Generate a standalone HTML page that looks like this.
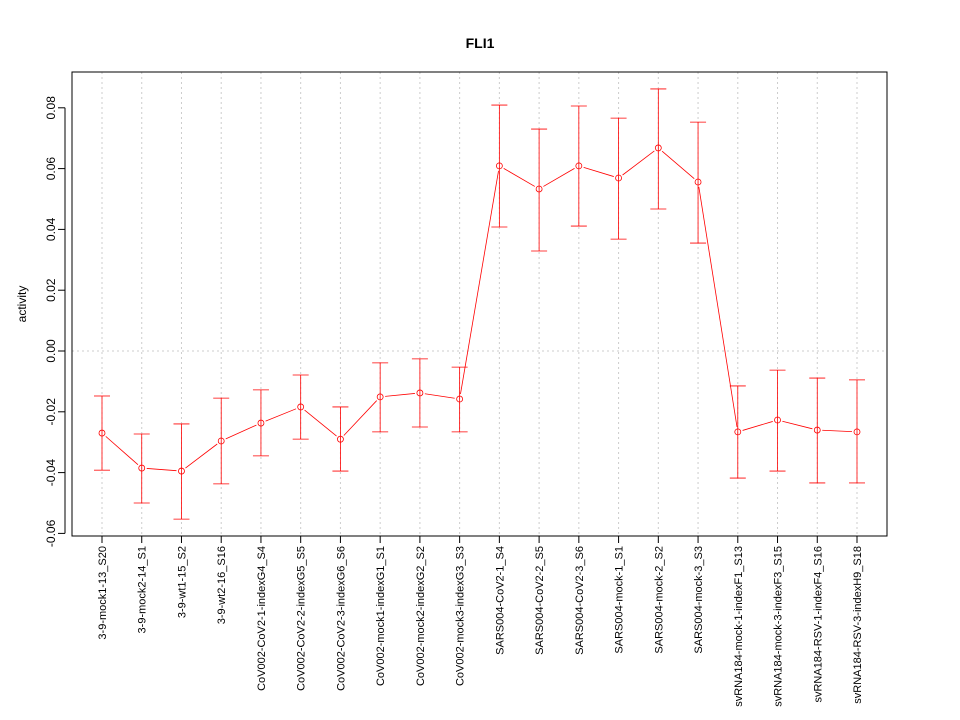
<!DOCTYPE html>
<html><head><meta charset="utf-8"><style>body{margin:0;background:#fff}svg{display:block;font-family:"Liberation Sans",sans-serif}</style></head>
<body>
<svg id="chart" width="960" height="720" xmlns="http://www.w3.org/2000/svg">
<rect width="960" height="720" fill="#fff"/>
<text x="480" y="48" text-anchor="middle" font-weight="bold" font-size="14">FLI1</text>
<text transform="translate(26,304) rotate(-90)" text-anchor="middle" font-size="12">activity</text>
<g id="grid"></g><g id="axes"></g><g id="marks"></g>
<rect x="72" y="72" width="815" height="464" fill="none" stroke="#000"/>
</svg>
<script>
const categories=["3-9-mock1-13_S20","3-9-mock2-14_S1","3-9-wt1-15_S2","3-9-wt2-16_S16","CoV002-CoV2-1-indexG4_S4","CoV002-CoV2-2-indexG5_S5","CoV002-CoV2-3-indexG6_S6","CoV002-mock1-indexG1_S1","CoV002-mock2-indexG2_S2","CoV002-mock3-indexG3_S3","SARS004-CoV2-1_S4","SARS004-CoV2-2_S5","SARS004-CoV2-3_S6","SARS004-mock-1_S1","SARS004-mock-2_S2","SARS004-mock-3_S3","svRNA184-mock-1-indexF1_S13","svRNA184-mock-3-indexF3_S15","svRNA184-RSV-1-indexF4_S16","svRNA184-RSV-3-indexH9_S18"];
const means=[-0.027,-0.0385,-0.0395,-0.0296,-0.0237,-0.0184,-0.029,-0.0151,-0.0138,-0.0158,0.0609,0.0533,0.0609,0.0569,0.0668,0.0556,-0.0266,-0.0227,-0.026,-0.0266];
const upper=[-0.0148,-0.0273,-0.024,-0.0155,-0.0128,-0.0079,-0.0184,-0.0039,-0.0026,-0.0053,0.0809,0.073,0.0806,0.0766,0.0862,0.0753,-0.0115,-0.0063,-0.0089,-0.0095];
const lower=[-0.0392,-0.050,-0.0553,-0.0437,-0.0345,-0.029,-0.0395,-0.0266,-0.025,-0.0266,0.0408,0.0329,0.0411,0.0368,0.0467,0.0355,-0.0418,-0.0395,-0.0434,-0.0434];
const yTicks=[-0.06,-0.04,-0.02,0.00,0.02,0.04,0.06,0.08];
const yTickLabels=["-0.06","-0.04","-0.02","0.00","0.02","0.04","0.06","0.08"];
const NS="http://www.w3.org/2000/svg";
function X(i){return 102+i*(857-102)/(categories.length-1);}
function Y(v){return 351-v*3040;}
function mk(t,a,p){const e=document.createElementNS(NS,t);for(const k in a)e.setAttribute(k,a[k]);p.appendChild(e);return e;}
const grid=document.getElementById('grid'),axes=document.getElementById('axes'),marks=document.getElementById('marks');
categories.forEach((c,i)=>{
 const g=mk('line',{x1:X(i),x2:X(i),y1:72,y2:536,stroke:'#ccc','stroke-dasharray':'2,3'},grid);
 
 const t=mk('line',{x1:X(i),x2:X(i),y1:536,y2:543,stroke:'#000'},axes);
 
 const l=mk('text',{transform:`translate(${X(i)+4},546) rotate(-90)`,'text-anchor':'end','font-size':'11'},axes);
 l.textContent=c;
});
const z=mk('line',{x1:72,x2:887,y1:Y(0),y2:Y(0),stroke:'#ccc','stroke-dasharray':'2,3'},grid);

const ya=mk('line',{x1:65,x2:65,y1:Y(yTicks[0]),y2:Y(yTicks[yTicks.length-1]),stroke:'#000'},axes);

yTicks.forEach((v,i)=>{
 const t=mk('line',{x1:58,x2:65,y1:Y(v),y2:Y(v),stroke:'#000'},axes);
 
 const l=mk('text',{transform:`translate(55,${Y(v)}) rotate(-90)`,'text-anchor':'middle','font-size':'12'},axes);
 l.textContent=yTickLabels[i];
});
const xa=mk('line',{x1:X(0),x2:X(categories.length-1),y1:536,y2:536,stroke:'#000'},axes);

means.forEach((m,i)=>{
 const e=mk('line',{x1:X(i),x2:X(i),y1:Y(upper[i]),y2:Y(lower[i]),stroke:'#f00','stroke-width':0.8},marks);
 
 [upper[i],lower[i]].forEach(v=>{const c=mk('line',{x1:X(i)-8,x2:X(i)+8,y1:Y(v),y2:Y(v),stroke:'#f00','stroke-width':0.8},marks);
 });
});
for(let i=0;i<means.length-1;i++){
 const x1=X(i),y1=Y(means[i]),x2=X(i+1),y2=Y(means[i+1]);
 const d=Math.hypot(x2-x1,y2-y1),g=5/d;
 const s=mk('line',{x1:x1+(x2-x1)*g,y1:y1+(y2-y1)*g,x2:x2-(x2-x1)*g,y2:y2-(y2-y1)*g,stroke:'#f00','stroke-width':0.8},marks);
 
}
means.forEach((m,i)=>{
 const p=mk('circle',{cx:X(i),cy:Y(m),r:3,fill:'none',stroke:'#f00','stroke-width':0.8},marks);
 
});
</script>
</body></html>
